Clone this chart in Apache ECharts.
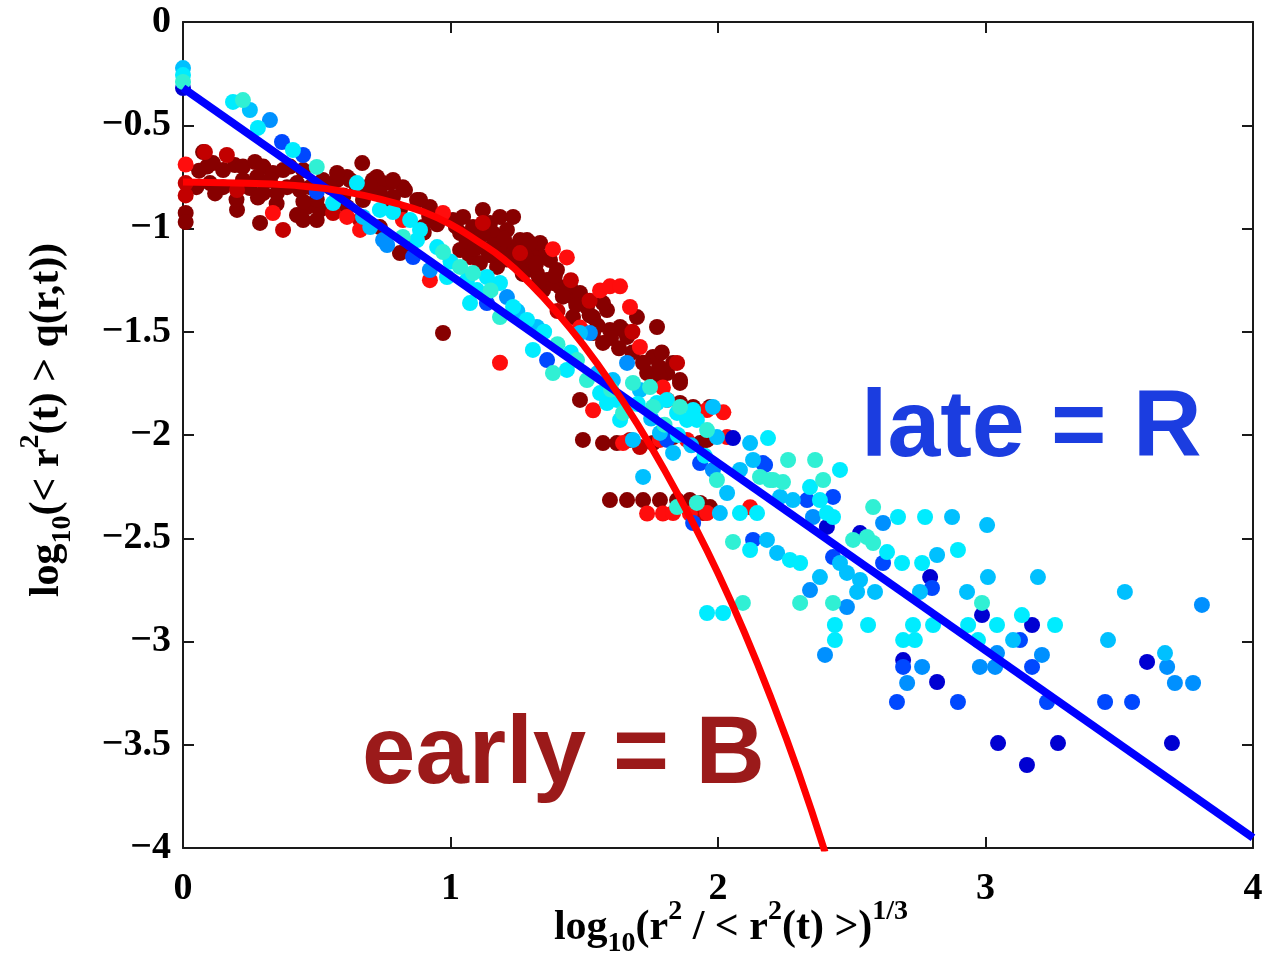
<!DOCTYPE html>
<html>
<head>
<meta charset="utf-8">
<script src="https://cdn.jsdelivr.net/npm/echarts@6/dist/echarts.min.js"></script>
<style>
html,body{margin:0;padding:0;background:#fff;}
#chart{width:1277px;height:961px;}
</style>
</head>
<body>
<div id="chart"></div>
<script>
// ---- axis ticks ----
const xTicks = [0, 1, 2, 3, 4];
const yTicks = [0, -0.5, -1, -1.5, -2, -2.5, -3, -3.5, -4];

// ---- fitted curves ----
const lateFitX = [0, 4];
const lateFitY = [-0.32, -3.95];
const earlyFitX = [0, 0.2, 0.4, 0.6, 0.8, 0.9, 1.0, 1.1, 1.2, 1.3, 1.4, 1.5, 1.6, 1.7, 1.8, 1.9, 2.0, 2.1, 2.2, 2.3, 2.4];
const earlyFitY = [-0.775, -0.78, -0.79, -0.82, -0.88, -0.92, -0.98, -1.06, -1.15, -1.27, -1.41, -1.57, -1.75, -1.95, -2.17, -2.41, -2.67, -2.96, -3.28, -3.63, -4.02];

// ---- early (B) scatter, by shade ----
const earlyDark = [[0.01,-0.925],[0.01,-0.969],[0.075,-0.63],[0.09,-0.70],[0.112,-0.683],[0.15,-0.717],[0.194,-0.693],[0.224,-0.70],[0.269,-0.678],[0.30,-0.70],[0.336,-0.731],[0.374,-0.717],[0.40,-0.70],[0.449,-0.717],[0.101,-0.78],[0.15,-0.80],[0.25,-0.804],[0.30,-0.828],[0.351,-0.828],[0.389,-0.80],[0.437,-0.814],[0.475,-0.80],[0.224,-0.765],[0.277,-0.75],[0.325,-0.765],[0.426,-0.78],[0.523,-0.765],[0.576,-0.765],[0.624,-0.765],[0.202,-0.91],[0.288,-0.973],[0.426,-0.935],[0.464,-0.896],[0.512,-0.91],[0.613,-0.896],[0.449,-0.959],[0.50,-0.959],[0.67,-0.683],[0.613,-0.75],[0.576,-0.731],[0.688,-0.828],[0.673,-0.862],[0.725,-0.75],[0.774,-0.78],[0.822,-0.80],[0.875,-0.862],[0.923,-0.896],[0.774,-0.896],[0.811,-0.91],[0.736,-0.993],[0.849,-1.09],[0.897,-0.993],[0.71,-0.765],[0.748,-0.78],[0.785,-0.765],[0.83,-0.814],[0.886,-0.862],[0.736,-0.828],[0.785,-0.847],
[0.55,-0.80],[0.60,-0.84],[0.50,-0.86],[0.45,-0.87],[0.35,-0.88],[0.28,-0.85],[0.20,-0.86],[0.12,-0.83],[0.06,-0.72],[0.05,-0.80],[0.65,-0.80],[0.70,-0.79],[0.92,-0.94],[0.95,-0.98],[0.90,-1.02],
[1.009,-0.959],[1.047,-0.944],[1.121,-0.91],[1.185,-0.944],[1.234,-0.944],[1.084,-0.993],[1.148,-0.973],[1.036,-1.022],[1.099,-1.056],[1.159,-1.022],[1.211,-1.007],[1.26,-1.056],[1.308,-1.09],[1.222,-1.09],[1.136,-1.104],[1.185,-1.119],[1.036,-1.104],[1.073,-1.138],[1.11,-1.167],[1.174,-1.186],[1.249,-1.167],[1.297,-1.186],[1.346,-1.138],[1.372,-1.153],[1.323,-1.216],[1.361,-1.249],[0.811,-1.119],[1.286,-1.056],[1.335,-1.07],[1.308,-1.138],[1.346,-1.298],[1.409,-1.283],[1.458,-1.332],[1.51,-1.38],[1.585,-1.395],[1.634,-1.477],[1.697,-1.429],[1.772,-1.477],[1.66,-1.525],[1.757,-1.622],[1.832,-1.651],[1.858,-1.734],[1.81,-1.70],[1.735,-1.70],[1.783,-1.719],[1.533,-1.506],[0.972,-1.506],[1.484,-1.83],[1.398,-1.201],[1.383,-1.264],[1.447,-1.283],[1.484,-1.312],[1.57,-1.361],[1.458,-1.429],[1.533,-1.429],[1.596,-1.492],[1.57,-1.554],[1.645,-1.492],[1.297,-1.07],
[1.02,-0.99],[1.06,-1.06],[1.12,-1.03],[1.16,-1.08],[1.20,-1.05],[1.24,-1.11],[1.28,-1.13],[1.32,-1.17],[1.15,-1.13],[1.09,-1.10],[1.21,-1.15],[1.27,-1.22],[1.33,-1.26],[1.39,-1.23],[1.42,-1.33],[1.47,-1.37],[1.52,-1.42],[1.55,-1.47],[1.60,-1.53],[1.63,-1.58],[1.68,-1.60],[1.72,-1.65],[1.78,-1.67],[1.79,-1.60],
[1.495,-2.024],[1.57,-2.039],[1.622,-2.039],[1.757,-2.039],[1.832,-2.01],[1.933,-2.039],[1.959,-2.024],[1.858,-1.845],[1.907,-1.864],[1.97,-1.864],[1.858,-1.748],
[1.596,-2.315],[1.66,-2.315],[1.72,-2.315],[1.783,-2.315],[1.847,-2.315],[1.933,-2.329],[1.97,-2.349],[1.895,-2.315]];
const earlyMid = [[0.01,-0.84],[0.01,-0.78],[0.082,-0.63],[0.164,-0.644],[0.374,-1.007],[0.662,-0.959],[1.671,-2.024],[1.944,-2.378],[1.847,-1.651],[0.202,-0.814],[0.561,-0.925],[1.121,-0.973],[1.26,-1.119],[1.708,-2.058],[1.45,-1.25],[1.52,-1.35],[1.68,-1.50],[1.40,-1.40]];
const earlyBright = [[0.01,-0.69],[1.185,-1.65],[1.435,-1.14],[1.383,-1.10],[1.559,-1.30],[1.596,-1.28],[1.634,-1.28],[1.671,-1.38],[0.336,-0.925],[0.972,-0.925],[0.923,-1.25],[1.484,-1.48],[1.533,-1.88],[1.735,-2.38],[1.794,-2.38],[1.895,-2.38],[2.12,-2.35],[2.02,-1.89],[1.81,-1.83],[1.794,-1.77],[1.708,-1.574],[0.613,-0.944],[0.662,-1.007],[0.822,-0.959],[1.645,-2.039],[1.783,-2.024],[1.884,-2.024],[2.034,-2.01],[1.959,-1.879],[1.832,-2.378],[1.959,-2.378]];

// ---- late (R) scatter, by shade ----
const lateNavy = [[0,-0.32],[2.056,-2.015],[2.531,-2.475],[2.407,-2.445],[2.793,-2.688],[2.987,-2.872],[3.174,-2.92],[2.692,-3.09],[3.604,-3.099],[2.819,-3.196],[3.047,-3.492],[3.271,-3.492],[3.697,-3.492],[3.155,-3.598]];
const lateBlue = [[0.37,-0.581],[0.449,-0.644],[0.50,-0.823],[0.86,-1.138],[1.136,-1.361],[1.361,-1.637],[1.907,-2.426],[1.933,-2.136],[2.168,-2.136],[2.131,-2.508],[2.333,-2.315],[2.43,-2.30],[2.43,-2.591],[2.617,-2.62],[2.80,-2.741],[3.129,-2.993],[2.692,-3.123],[3.174,-3.123],[2.669,-3.293],[2.897,-3.293],[3.23,-3.293],[3.447,-3.293],[3.548,-3.293],[2.176,-2.145],[1.81,-2.024]];
const lateAzure = [[0.325,-0.475],[0.748,-1.056],[0.763,-1.08],[0.923,-1.201],[1.211,-1.332],[1.521,-1.506],[1.66,-1.651],[1.981,-2.169],[2.355,-2.397],[2.344,-2.751],[2.482,-2.833],[2.617,-2.426],[3.809,-2.823],[2.40,-3.065],[2.763,-3.123],[2.979,-3.123],[3.036,-3.123],[3.043,-3.056],[3.211,-3.065],[3.679,-3.123],[3.708,-3.201],[3.776,-3.201],[2.707,-3.201]];
const lateSky = [[0,-0.223],[0.25,-0.426],[0.70,-0.993],[0.673,-0.944],[1.323,-1.477],[1.484,-1.506],[1.607,-1.734],[1.708,-1.782],[1.981,-1.864],[1.682,-2.024],[1.783,-1.99],[1.832,-2.087],[1.72,-2.203],[1.996,-2.01],[2.12,-2.039],[2.131,-2.121],[2.082,-2.169],[2.034,-2.281],[2.007,-2.378],[2.183,-2.508],[2.221,-2.571],[2.232,-2.30],[2.28,-2.315],[2.381,-2.688],[2.482,-2.668],[2.531,-2.702],[2.875,-2.397],[3.006,-2.436],[2.456,-2.62],[2.819,-2.581],[2.755,-2.76],[2.931,-2.76],[3.009,-2.688],[3.196,-2.688],[3.521,-2.76],[3.103,-2.993],[3.458,-2.993],[3.671,-3.056],[2.52,-2.76],[2.587,-2.76],[1.25,-1.40],[1.55,-1.70],[1.75,-1.92],[1.90,-2.05]];
const lateCyan = [[0,-0.257],[0.187,-0.387],[0.28,-0.513],[0.411,-0.62],[0.561,-0.877],[0.65,-0.78],[0.875,-1.056],[0.95,-1.09],[0.736,-0.91],[0.785,-0.92],[0.849,-0.959],[0.886,-1.007],[1.136,-1.235],[1.185,-1.264],[0.987,-1.235],[1.062,-1.249],[1.099,-1.298],[1.073,-1.361],[1.234,-1.38],[1.286,-1.443],[1.308,-1.588],[1.435,-1.685],[1.559,-1.797],[1.622,-1.83],[1.809,-1.83],[1.907,-1.879],[1.585,-1.845],[1.634,-1.927],[1.772,-1.845],[1.847,-1.893],[1.884,-1.927],[1.921,-1.927],[2.187,-2.015],[2.456,-2.169],[2.344,-2.252],[2.082,-2.378],[2.146,-2.378],[2.12,-2.557],[2.269,-2.605],[2.307,-2.62],[2.381,-2.315],[2.407,-2.378],[1.959,-2.862],[2.019,-2.862],[2.43,-2.397],[2.673,-2.397],[2.774,-2.397],[2.632,-2.567],[2.688,-2.62],[2.763,-2.62],[2.897,-2.557],[3.136,-2.872],[3.26,-2.92],[3.043,-2.92],[2.935,-2.92],[2.804,-2.92],[2.729,-2.92],[2.561,-2.92],[2.437,-2.92],[2.437,-2.993],[2.692,-2.993],[2.736,-2.993],[2.972,-2.993],[1.00,-1.16],[1.35,-1.50],[1.45,-1.60],[1.70,-1.85],[1.85,-2.00],[1.95,-2.10]];
const lateAqua = [[0,-0.29],[0.224,-0.378],[0.50,-0.702],[0.822,-1.041],[0.972,-1.114],[1.036,-1.186],[1.084,-1.216],[1.185,-1.429],[1.383,-1.70],[1.473,-1.637],[1.51,-1.734],[1.682,-1.748],[1.757,-1.864],[1.858,-1.864],[1.645,-1.893],[1.746,-1.768],[1.959,-1.976],[1.847,-2.349],[1.921,-2.329],[1.996,-2.218],[2.157,-2.203],[2.206,-2.218],[2.262,-2.121],[2.363,-2.121],[2.243,-2.228],[2.056,-2.518],[2.307,-2.813],[2.43,-2.813],[2.505,-2.508],[2.557,-2.494],[2.58,-2.349],[2.093,-2.813],[2.393,-2.218],[2.58,-2.523],[2.987,-2.813],[2.194,-2.218],[1.15,-1.30],[1.40,-1.56],[1.60,-1.78],[1.80,-1.95]];

// ---- annotation texts ----
const lateLabel = 'late = R';
const earlyLabel = 'early = B';

const zip = (xs, ys) => xs.map((x, i) => [x, ys[i]]);
const serif = '"Liberation Serif", "DejaVu Serif", serif';
const sans = '"Liberation Sans", Arial, sans-serif';
const axisColor = '#1a1a1a';
const fmt = v => (v < 0 ? '\u2212' + Math.abs(v) : String(v));

function dots(name, data, color) {
  return {
    name, type: 'scatter', data, symbol: 'circle', symbolSize: 16,
    itemStyle: { color, opacity: 1 }, silent: true, z: 2
  };
}

const baseAxis = {
  type: 'value', splitLine: { show: false },
  axisLine: { show: true, onZero: false, lineStyle: { color: axisColor, width: 2 } },
  axisTick: { show: true, inside: true, length: 11, lineStyle: { color: axisColor, width: 2 } }
};

const richName = {
  a: { fontFamily: serif, fontWeight: 'bold', fontSize: 42, lineHeight: 60, fill: '#000', color: '#000' },
  b: { fontFamily: serif, fontWeight: 'bold', fontSize: 28, lineHeight: 26, verticalAlign: 'bottom', fill: '#000', color: '#000' },
  c: { fontFamily: serif, fontWeight: 'bold', fontSize: 28, lineHeight: 30, verticalAlign: 'top', fill: '#000', color: '#000' }
};

const chart = echarts.init(document.getElementById('chart'), null, { renderer: 'canvas' });
chart.setOption({
  animation: false,
  backgroundColor: '#ffffff',
  grid: { left: 183, right: 24, top: 22, bottom: 113, containLabel: false },
  xAxis: [
    Object.assign({}, baseAxis, {
      min: xTicks[0], max: xTicks[xTicks.length - 1], interval: 1, position: 'bottom',
      axisLabel: { fontFamily: serif, fontWeight: 'bold', fontSize: 38, color: '#000', margin: 22, formatter: fmt }
    }),
    Object.assign({}, baseAxis, {
      min: xTicks[0], max: xTicks[xTicks.length - 1], interval: 1, position: 'top',
      axisLabel: { show: false }
    })
  ],
  yAxis: [
    Object.assign({}, baseAxis, {
      min: yTicks[yTicks.length - 1], max: yTicks[0], interval: 0.5, position: 'left',
      axisLabel: { fontFamily: serif, fontWeight: 'bold', fontSize: 38, color: '#000', margin: 12, formatter: fmt }
    }),
    Object.assign({}, baseAxis, {
      min: yTicks[yTicks.length - 1], max: yTicks[0], interval: 0.5, position: 'right',
      axisLabel: { show: false }
    })
  ],
  series: [
    dots('early dark', earlyDark, '#870000'),
    dots('early mid', earlyMid, '#c20000'),
    dots('early bright', earlyBright, '#ff0d0d'),
    dots('late navy', lateNavy, '#0000d2'),
    dots('late blue', lateBlue, '#0048ff'),
    dots('late azure', lateAzure, '#0090ff'),
    dots('late sky', lateSky, '#00c0ff'),
    dots('late cyan', lateCyan, '#00ecff'),
    dots('late aqua', lateAqua, '#30f0d4'),
    {
      name: 'late fit', type: 'line', data: zip(lateFitX, lateFitY), showSymbol: false, symbol: 'none',
      lineStyle: { color: '#0000ff', width: 8 }, z: 3, silent: true
    },
    {
      name: 'early fit', type: 'line', data: zip(earlyFitX, earlyFitY), showSymbol: false, symbol: 'none', smooth: true,
      lineStyle: { color: '#ff0000', width: 7 }, z: 4, silent: true, clip: true
    }
  ],
  graphic: [
    {
      type: 'text', x: 861, y: 430, z: 10,
      style: { text: lateLabel, fill: '#1b3de0', font: 'bold 95px ' + sans, verticalAlign: 'middle', align: 'left' }
    },
    {
      type: 'text', x: 362, y: 757, z: 10,
      style: { text: earlyLabel, fill: '#9b1a1a', font: 'bold 96px ' + sans, verticalAlign: 'middle', align: 'left' }
    },
    {
      type: 'text', x: 731, y: 928, z: 10,
      style: {
        text: '{a|log}{b|10}{a|(r}{c|2}{a| / < r}{c|2}{a|(t) >)}{c|1/3}',
        align: 'center', verticalAlign: 'middle', rich: richName
      }
    },
    {
      type: 'text', x: 47, y: 420, rotation: Math.PI / 2, z: 10,
      style: {
        text: '{a|log}{b|10}{a|(< r}{c|2}{a|(t) > q(r,t))}',
        align: 'center', verticalAlign: 'middle', rich: richName
      }
    }
  ]
});
</script>
</body>
</html>
